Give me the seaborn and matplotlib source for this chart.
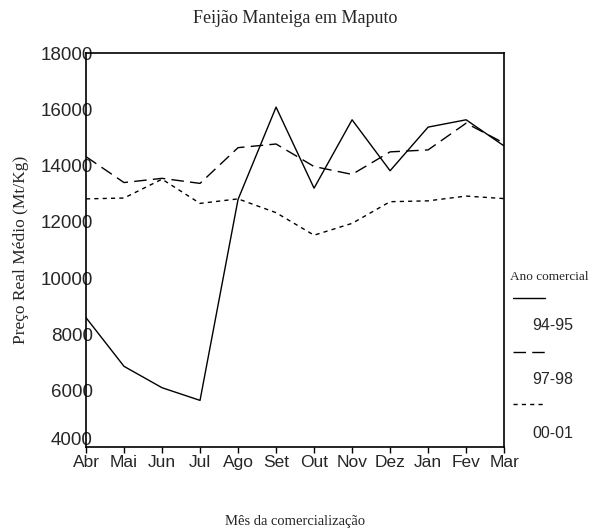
"""Feijao Manteiga em Maputo - real mean price by marketing month."""
import matplotlib
matplotlib.use("Agg")
import matplotlib.pyplot as plt
import pandas as pd
import seaborn as sns
from matplotlib.lines import Line2D
from matplotlib.transforms import ScaledTranslation

MESES = ["Abr", "Mai", "Jun", "Jul", "Ago", "Set", "Out", "Nov", "Dez", "Jan", "Fev", "Mar"]
ANOS = ["94-95", "97-98", "00-01"]

PRECO_94_95 = [8600, 6870, 6110, 5660, 12800, 16080, 13200, 15630, 13820, 15370, 15630, 14700]
PRECO_97_98 = [14320, 13400, 13550, 13370, 14640, 14770, 13970, 13690, 14490, 14560, 15510, 14800]
PRECO_00_01 = [12820, 12850, 13520, 12660, 12820, 12330, 11530, 11950, 12720, 12750, 12920, 12830]

DASHES = {"94-95": "", "97-98": (9, 4.5), "00-01": (3, 3)}

SERIF = ["Liberation Serif", "DejaVu Serif"]
SANS = ["Liberation Sans", "DejaVu Sans"]


def build_frame():
    frames = []
    for ano, vals in zip(ANOS, [PRECO_94_95, PRECO_97_98, PRECO_00_01]):
        frames.append(pd.DataFrame({"mes": MESES, "preco": vals, "ano": ano}))
    return pd.concat(frames, ignore_index=True)


def main():
    sns.set_theme(style="white")
    plt.rcParams["font.family"] = SANS

    df = build_frame()
    fig = plt.figure(figsize=(5.91, 5.31), dpi=100)
    ax = fig.add_axes([0.1455, 0.158, 0.7075, 0.742])

    sns.lineplot(
        data=df, x="mes", y="preco", style="ano", dashes=DASHES,
        color="black", linewidth=1.0, sort=False, legend=False, ax=ax,
    )

    ax.set_xlim(0, len(MESES) - 1)
    ax.set_ylim(4000, 18000)
    ax.set_yticks(range(4000, 18001, 2000))
    for s in ax.spines.values():
        s.set_color("black")
        s.set_linewidth(1.2)

    ax.tick_params(axis="x", direction="out", length=4, width=1, color="black",
                   labelsize=12.5, pad=2, bottom=True)
    ax.tick_params(axis="y", length=0, labelsize=13.5, pad=-5)

    # lowest y label sits a bit above its tick, clear of "Abr"
    low = ax.get_yticklabels()[0]
    low.set_transform(low.get_transform() + ScaledTranslation(0, 6 / 72, fig.dpi_scale_trans))

    ax.set_title("Feijão Manteiga em Maputo", family=SERIF, fontsize=13, pad=22)
    ax.set_ylabel("Preço Real Médio (Mt/Kg)", family=SERIF, fontsize=12.5, labelpad=8)
    ax.set_xlabel("Mês da comercialização", family=SERIF, fontsize=10.5, labelpad=32)

    # SPSS-style legend outside, labels below their line samples
    fig.text(0.863, 1 - 277 / 531, "Ano comercial", family=SERIF, fontsize=9.5,
             va="center", ha="left")
    sample_y = [298, 352, 404]
    label_y = [326, 380, 434]
    for ano, sy, ly in zip(ANOS, sample_y, label_y):
        line = Line2D([513 / 591, 545 / 591], [1 - sy / 531] * 2, color="black",
                      linewidth=1.0, transform=fig.transFigure)
        if DASHES[ano]:
            line.set_dashes(DASHES[ano])
        fig.add_artist(line)
        fig.text(532 / 591, 1 - ly / 531, ano, fontsize=11.5, va="center", ha="left")

    fig.savefig("out.png", dpi=100)
    plt.close(fig)


if __name__ == "__main__":
    main()
